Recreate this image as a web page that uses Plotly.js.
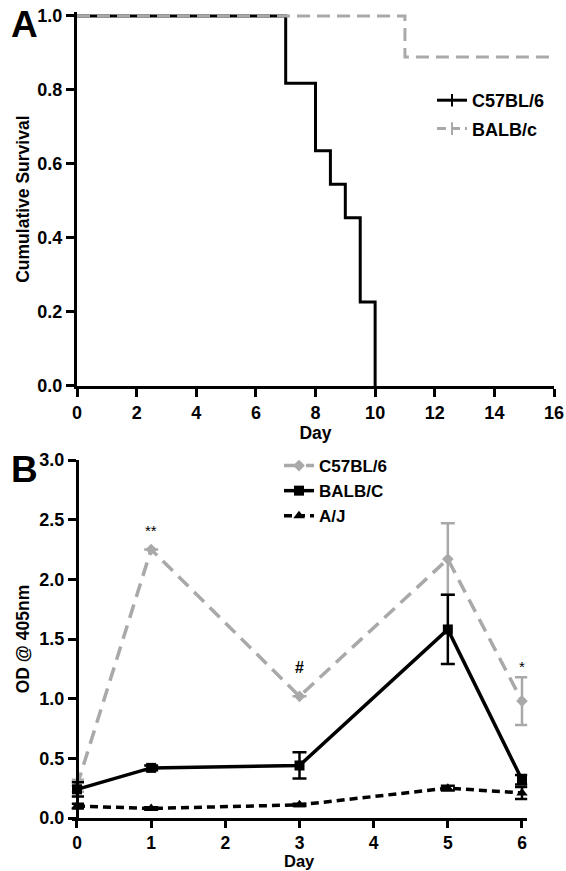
<!DOCTYPE html>
<html>
<head>
<meta charset="utf-8">
<script src="https://cdn.plot.ly/plotly-3.0.1.min.js"></script>
<style>html,body{margin:0;padding:0;background:#fff;}#chart{width:566px;height:871px;}</style>
</head>
<body>
<div id="chart"></div>
<script>
// Panel A: survival
const survC57Day = [0, 7, 8, 8.5, 9, 9.5, 10];
const survC57 = [1, 0.818, 0.636, 0.545, 0.455, 0.227, 0];
const survBALBDay = [0, 11, 16];
const survBALB = [1, 0.889, 0.889];
const survXTicks = [0, 2, 4, 6, 8, 10, 12, 14, 16];
const survYTicks = [0, 0.2, 0.4, 0.6, 0.8, 1.0];

// Panel B: OD @ 405nm
const odDays = [0, 1, 3, 5, 6];
const odC57 = [0.27, 2.25, 1.02, 2.17, 0.98];
const odC57Err = [0.05, 0, 0, 0.30, 0.20];
const odBALB = [0.24, 0.42, 0.44, 1.58, 0.32];
const odBALBErr = [0.06, 0.02, 0.11, 0.29, 0.04];
const odAJ = [0.10, 0.08, 0.11, 0.25, 0.21];
const odAJErr = [0.02, 0.01, 0.01, 0.02, 0.05];
const odXTicks = [0, 1, 2, 3, 4, 5, 6];
const odYTicks = [0, 0.5, 1.0, 1.5, 2.0, 2.5, 3.0];

const GRAY = '#a9a9a9';
const FONT = 'Liberation Sans, Arial, sans-serif';
const boldFont = (s, c) => ({family: FONT, size: s, color: c || '#000', weight: 'bold'});

const traces = [
  {x: survC57Day, y: survC57, xaxis: 'x', yaxis: 'y', mode: 'lines', line: {shape: 'hv', color: '#000', width: 3}, showlegend: false, name: 'C57BL/6'},
  {x: survBALBDay, y: survBALB, xaxis: 'x', yaxis: 'y', mode: 'lines', line: {shape: 'hv', color: GRAY, width: 3, dash: '13px,7px'}, showlegend: false, name: 'BALB/c'},
  {x: [null], y: [null], xaxis: 'x', yaxis: 'y', mode: 'lines+markers', name: 'C57BL/6', legend: 'legend', legendgroup: 'a1',
   line: {color: '#000', width: 3}, marker: {symbol: 'line-ns-open', size: 9, line: {color: '#000', width: 2}}},
  {x: [null], y: [null], xaxis: 'x', yaxis: 'y', mode: 'lines+markers', name: 'BALB/c', legend: 'legend', legendgroup: 'a2',
   line: {color: GRAY, width: 3, dash: '9px,5px'}, marker: {symbol: 'line-ns-open', size: 9, line: {color: GRAY, width: 2}}},

  {x: odDays, y: odC57, xaxis: 'x2', yaxis: 'y2', mode: 'lines+markers', name: 'C57BL/6', legend: 'legend2',
   line: {color: GRAY, width: 3.5, dash: '14px,8px'}, marker: {symbol: 'diamond', size: 9, color: GRAY},
   error_y: {type: 'data', array: odC57Err, visible: true, color: GRAY, thickness: 2.5, width: 7}, cliponaxis: false},
  {x: odDays, y: odBALB, xaxis: 'x2', yaxis: 'y2', mode: 'lines+markers', name: 'BALB/C', legend: 'legend2',
   line: {color: '#000', width: 3.5}, marker: {symbol: 'square', size: 10, color: '#000'},
   error_y: {type: 'data', array: odBALBErr, visible: true, color: '#000', thickness: 2.5, width: 7}, cliponaxis: false},
  {x: odDays, y: odAJ, xaxis: 'x2', yaxis: 'y2', mode: 'lines+markers', name: 'A/J', legend: 'legend2',
   line: {color: '#000', width: 3.5, dash: '8px,5px'}, marker: {symbol: 'triangle-up', size: 10, color: '#000'},
   error_y: {type: 'data', array: odAJErr, visible: true, color: '#000', thickness: 2.5, width: 7}, cliponaxis: false}
];

const axisCommon = {
  showline: true, linecolor: '#000', linewidth: 3, ticks: 'outside', ticklen: 8, tickwidth: 3, tickcolor: '#000',
  showgrid: false, zeroline: false, tickfont: boldFont(18), automargin: false, fixedrange: true, ticklabeloverflow: 'allow'
};

// panel B x scale: 0 -> 77px, 6 -> 522px, range padded so end error bars are not clipped
const bPx = 445 / 6;
const bPad = 0.07;

const layout = {
  width: 566, height: 871,
  margin: {l: 0, r: 0, t: 0, b: 0},
  paper_bgcolor: '#fff', plot_bgcolor: '#fff',
  font: {family: FONT, color: '#000'},
  xaxis: Object.assign({}, axisCommon, {domain: [77 / 566, 554 / 566], anchor: 'y', range: [0, 16], tickvals: survXTicks,
    title: {text: 'Day', font: boldFont(17.5), standoff: 2}}),
  yaxis: Object.assign({}, axisCommon, {domain: [0.55683, 0.98588], anchor: 'x', range: [0, 1.01], tickvals: survYTicks, tickformat: '.1f',
    title: {text: 'Cumulative Survival', font: boldFont(17.5), standoff: 4}}),
  xaxis2: Object.assign({}, axisCommon, {domain: [(77 - bPad * bPx) / 566, (522 + bPad * bPx) / 566], anchor: 'y2', range: [-bPad, 6 + bPad], tickvals: odXTicks,
    ticklen: 7, tickfont: boldFont(17.5)}),
  yaxis2: Object.assign({}, axisCommon, {domain: [0.06085, 0.47187], anchor: 'free', position: 77 / 566, range: [0, 3], tickvals: odYTicks, tickformat: '.1f',
    title: {text: 'OD @ 405nm', font: boldFont(17.5), standoff: 4}}),
  legend: {x: 432/566, xanchor: 'left', y: 1 - 82/871, yanchor: 'top', font: boldFont(18), bgcolor: 'rgba(0,0,0,0)', borderwidth: 0, tracegroupgap: 2, traceorder: 'grouped'},
  legend2: {x: 279/566, xanchor: 'left', y: 1 - 448/871, yanchor: 'top', font: boldFont(17), bgcolor: 'rgba(0,0,0,0)', borderwidth: 0},
  annotations: [
    {text: 'A', xref: 'paper', yref: 'paper', x: 9/566, y: 1 - 24/871, xanchor: 'left', yanchor: 'middle', showarrow: false, font: boldFont(37)},
    {text: 'B', xref: 'paper', yref: 'paper', x: 9/566, y: 1 - 470/871, xanchor: 'left', yanchor: 'middle', showarrow: false, font: boldFont(37)},
    {text: 'Day', xref: 'paper', yref: 'paper', x: 299.5/566, y: 0, xanchor: 'center', yanchor: 'bottom', borderpad: 0, showarrow: false, font: boldFont(16.5)},
    {text: '**', xref: 'x2', yref: 'y2', x: 1, y: 2.41, showarrow: false, font: {family: FONT, size: 15, color: '#000'}},
    {text: '#', xref: 'x2', yref: 'y2', x: 3, y: 1.26, showarrow: false, font: boldFont(16)},
    {text: '*', xref: 'x2', yref: 'y2', x: 6, y: 1.27, showarrow: false, font: {family: FONT, size: 15, color: '#000'}}
  ]
};

Plotly.newPlot('chart', traces, layout, {staticPlot: true, displayModeBar: false});
</script>
</body>
</html>
